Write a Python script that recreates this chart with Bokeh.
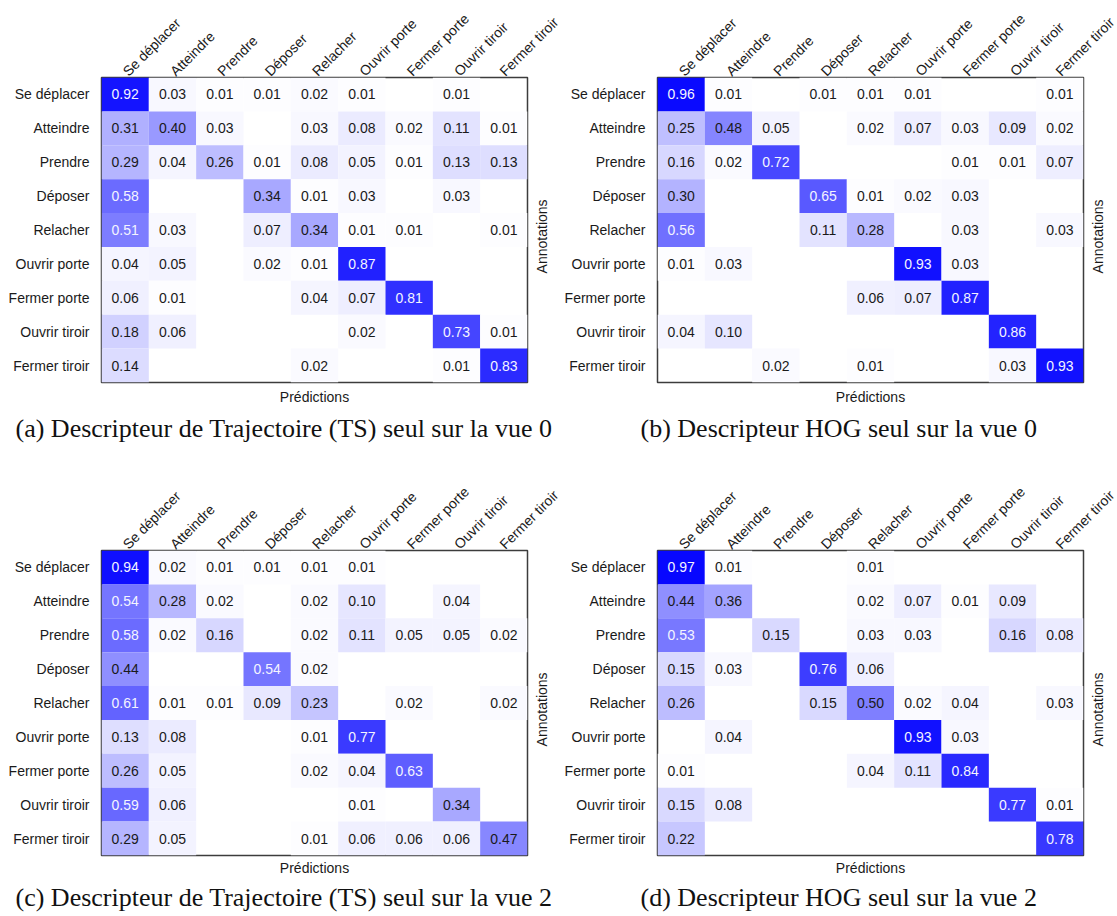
import math
from bokeh.plotting import figure
from bokeh.models import (FactorRange, ColumnDataSource, LinearColorMapper,
                          Title, LinearAxis, Range1d, FixedTicker)
from bokeh.layouts import column, row
from bokeh.embed import file_html
from bokeh.resources import INLINE
from bokeh.core.properties import value

classes = ["Se déplacer", "Atteindre", "Prendre", "Déposer", "Relacher",
           "Ouvrir porte", "Fermer porte", "Ouvrir tiroir", "Fermer tiroir"]

# rows = annotations, columns = predictions ; None = empty cell
ts_vue0 = [
    [0.92, 0.03, 0.01, 0.01, 0.02, 0.01, None, 0.01, None],
    [0.31, 0.40, 0.03, None, 0.03, 0.08, 0.02, 0.11, 0.01],
    [0.29, 0.04, 0.26, 0.01, 0.08, 0.05, 0.01, 0.13, 0.13],
    [0.58, None, None, 0.34, 0.01, 0.03, None, 0.03, None],
    [0.51, 0.03, None, 0.07, 0.34, 0.01, 0.01, None, 0.01],
    [0.04, 0.05, None, 0.02, 0.01, 0.87, None, None, None],
    [0.06, 0.01, None, None, 0.04, 0.07, 0.81, None, None],
    [0.18, 0.06, None, None, None, 0.02, None, 0.73, 0.01],
    [0.14, None, None, None, 0.02, None, None, 0.01, 0.83],
]
hog_vue0 = [
    [0.96, 0.01, None, 0.01, 0.01, 0.01, None, None, 0.01],
    [0.25, 0.48, 0.05, None, 0.02, 0.07, 0.03, 0.09, 0.02],
    [0.16, 0.02, 0.72, None, None, None, 0.01, 0.01, 0.07],
    [0.30, None, None, 0.65, 0.01, 0.02, 0.03, None, None],
    [0.56, None, None, 0.11, 0.28, None, 0.03, None, 0.03],
    [0.01, 0.03, None, None, None, 0.93, 0.03, None, None],
    [None, None, None, None, 0.06, 0.07, 0.87, None, None],
    [0.04, 0.10, None, None, None, None, None, 0.86, None],
    [None, None, 0.02, None, 0.01, None, None, 0.03, 0.93],
]
ts_vue2 = [
    [0.94, 0.02, 0.01, 0.01, 0.01, 0.01, None, None, None],
    [0.54, 0.28, 0.02, None, 0.02, 0.10, None, 0.04, None],
    [0.58, 0.02, 0.16, None, 0.02, 0.11, 0.05, 0.05, 0.02],
    [0.44, None, None, 0.54, 0.02, None, None, None, None],
    [0.61, 0.01, 0.01, 0.09, 0.23, None, 0.02, None, 0.02],
    [0.13, 0.08, None, None, 0.01, 0.77, None, None, None],
    [0.26, 0.05, None, None, 0.02, 0.04, 0.63, None, None],
    [0.59, 0.06, None, None, None, 0.01, None, 0.34, None],
    [0.29, 0.05, None, None, 0.01, 0.06, 0.06, 0.06, 0.47],
]
hog_vue2 = [
    [0.97, 0.01, None, None, 0.01, None, None, None, None],
    [0.44, 0.36, None, None, 0.02, 0.07, 0.01, 0.09, None],
    [0.53, None, 0.15, None, 0.03, 0.03, None, 0.16, 0.08],
    [0.15, 0.03, None, 0.76, 0.06, None, None, None, None],
    [0.26, None, None, 0.15, 0.50, 0.02, 0.04, None, 0.03],
    [None, 0.04, None, None, None, 0.93, 0.03, None, None],
    [0.01, None, None, None, 0.04, 0.11, 0.84, None, None],
    [0.15, 0.08, None, None, None, None, None, 0.77, 0.01],
    [0.22, None, None, None, None, None, None, None, 0.78],
]
captions = [
    "(a) Descripteur de Trajectoire (TS) seul sur la vue 0",
    "(b) Descripteur HOG seul sur la vue 0",
    "(c) Descripteur de Trajectoire (TS) seul sur la vue 2",
    "(d) Descripteur HOG seul sur la vue 2",
]
x_title = "Prédictions"
y_title = "Annotations"

SANS = "Liberation Sans"
SERIF = "Liberation Serif"
FS = "14px"
N = len(classes)
ANN_POS = 3.22   # row-axis position where the rotated "Annotations" text starts
palette = ["#%02x%02x%02x" % (255 - i, 255 - i, 255) for i in range(256)]


def make_panel(mat, caption, cap_offset, width, height, mb_left, mb_right,
               mb_bottom, xt_standoff, cap_standoff):
    p = figure(width=width, height=height,
               x_range=FactorRange(factors=classes),
               y_range=Range1d(0, N),
               x_axis_location="above", y_axis_location="left",
               output_backend="svg", toolbar_location=None,
               min_border_left=mb_left, min_border_right=mb_right,
               min_border_top=77, min_border_bottom=mb_bottom)
    row_pos = [N - i - 0.5 for i in range(N)]   # first class on top
    xs, ys, vs, txt, tc = [], [], [], [], []
    for i in range(N):
        for j, c in enumerate(classes):
            v = mat[i][j]
            if v is None:
                continue
            xs.append(c)
            ys.append(row_pos[i])
            vs.append(v)
            txt.append("%.2f" % v)
            tc.append("#f4f4ff" if v > 0.5 else "#1a1a1a")
    src = ColumnDataSource(dict(x=xs, y=ys, v=vs, t=txt, tc=tc))
    mapper = LinearColorMapper(palette=palette, low=0, high=1)
    p.rect(x="x", y="y", width=1, height=1, source=src,
           fill_color={"field": "v", "transform": mapper}, line_color=None)
    p.text(x="x", y="y", text="t", source=src, text_align="center",
           text_baseline="middle", text_font=value(SANS),
           text_font_size=FS, text_color="tc")

    yax = p.yaxis[0]
    yax.ticker = FixedTicker(ticks=row_pos)
    yax.major_label_overrides = {rp: c for rp, c in zip(row_pos, classes)}

    # right axis carrying the rotated "Annotations" title
    rax = LinearAxis(ticker=FixedTicker(ticks=[ANN_POS]),
                     major_label_overrides={ANN_POS: y_title})
    p.add_layout(rax, "right")

    p.grid.visible = False
    p.outline_line_color = "#3c3c3c"
    p.outline_line_width = 1.5
    for ax in p.axis:
        ax.axis_line_color = None
        ax.major_tick_line_color = None
        ax.minor_tick_line_color = None
        ax.major_tick_out = 0
        ax.major_tick_in = 0
        ax.minor_tick_out = 0
        ax.minor_tick_in = 0
        ax.major_label_text_font = SANS
        ax.major_label_text_font_size = FS
        ax.major_label_text_color = "#1a1a1a"
    rax.major_label_orientation = math.pi / 2
    rax.major_label_standoff = 15
    p.xaxis[0].major_label_orientation = math.pi / 4
    p.xaxis[0].major_label_standoff = 4
    yax.major_label_standoff = 12

    p.add_layout(Title(text=x_title, align="center", text_font=SANS,
                       text_font_size=FS, text_font_style="normal",
                       text_color="#1a1a1a", standoff=xt_standoff), "below")
    p.add_layout(Title(text=caption, align="left", offset=cap_offset,
                       text_font=SERIF, text_font_size="26px",
                       text_font_style="normal", text_color="#111111",
                       standoff=cap_standoff), "below")
    return p


pa = make_panel(ts_vue0, captions[0], -86, 561, 473, 101, 33, 91, 8, 6)
pb = make_panel(hog_vue0, captions[1], -17, 556, 473, 96, 33, 91, 8, 6)
pc = make_panel(ts_vue2, captions[2], -86, 561, 443, 101, 33, 61, 5, 4)
pd = make_panel(hog_vue2, captions[3], -17, 556, 443, 96, 33, 61, 5, 4)

layout = column(row(pa, pb), row(pc, pd))
open("out.html", "w").write(file_html(layout, INLINE))
